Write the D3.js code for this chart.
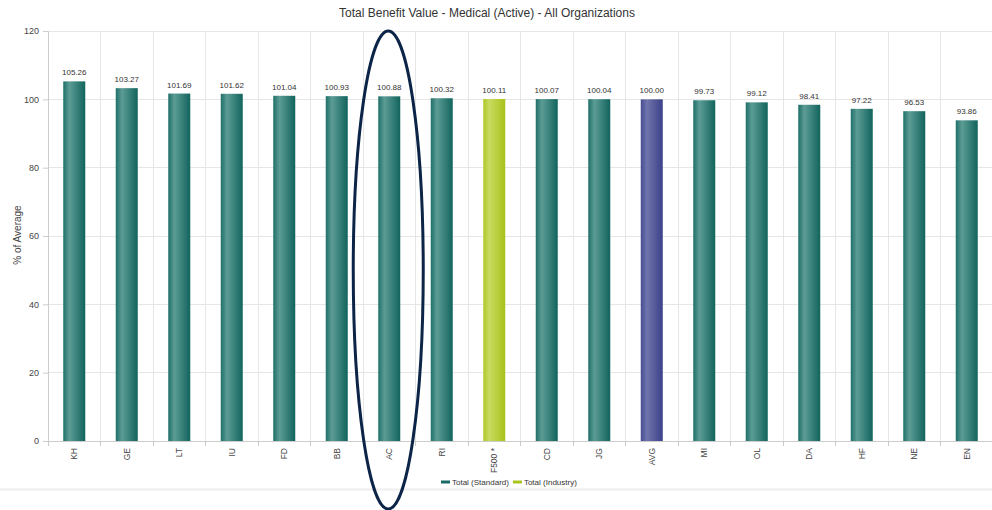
<!DOCTYPE html>
<html>
<head>
<meta charset="utf-8">
<script src="https://cdn.jsdelivr.net/npm/d3@7"></script>
<style>
  html, body { margin: 0; padding: 0; background: #fff; }
  svg { display: block; font-family: "Liberation Sans", Arial, sans-serif; }
</style>
</head>
<body>
<svg id="chart" width="992" height="510"></svg>
<script>
// Organizations ranked by total medical benefit value (% of average)
const categories = ["KH", "GE", "LT", "IU", "FD", "BB", "AC", "RI", "F500 *", "CD", "JG", "AVG", "MI", "OL", "DA", "HF", "NE", "EN"];
const values = [105.26, 103.27, 101.69, 101.62, 101.04, 100.93, 100.88, 100.32, 100.11, 100.07, 100.04, 100.00, 99.73, 99.12, 98.41, 97.22, 96.53, 93.86];
// Series each bar belongs to: standard organizations, the industry benchmark, and the average
const seriesOf = ["std", "std", "std", "std", "std", "std", "std", "std", "ind", "std", "std", "avg", "std", "std", "std", "std", "std", "std"];
const yTicks = [0, 20, 40, 60, 80, 100, 120];
const legendItems = [
  { key: "std", label: "Total (Standard)" },
  { key: "ind", label: "Total (Industry)" }
];
const highlighted = "AC";

const palette = {
  std: { edge: "#1f6f69", light: "#5c9c95", dark: "#11645d", swatch: "#1b6a66" },
  ind: { edge: "#b0c82a", light: "#cadb62", dark: "#a8c21a", swatch: "#a9c41c" },
  avg: { edge: "#474b93", light: "#7074ab", dark: "#3c4089", swatch: "#474b93" }
};

const svg = d3.select("#chart");
const margin = { left: 48, top: 31 };
const W = 992;
const plotW = 993 - margin.left;
const plotBottom = 441;

const x = d3.scaleBand().domain(categories).range([margin.left, margin.left + plotW]).paddingInner(0).paddingOuter(0);
const y = d3.scaleLinear().domain([0, 120]).range([plotBottom, margin.top]);

// Horizontal gradients giving each bar its cylindrical shading
const defs = svg.append("defs");
Object.entries(palette).forEach(([k, c]) => {
  const g = defs.append("linearGradient").attr("id", "grad-" + k)
    .attr("x1", "0%").attr("x2", "100%").attr("y1", "0%").attr("y2", "0%");
  g.append("stop").attr("offset", "0%").attr("stop-color", c.edge);
  g.append("stop").attr("offset", "28%").attr("stop-color", c.light);
  g.append("stop").attr("offset", "100%").attr("stop-color", c.dark);
});

// Title
svg.append("text").attr("x", 487).attr("y", 17).attr("text-anchor", "middle")
  .attr("font-size", 12).attr("fill", "#333")
  .text("Total Benefit Value - Medical (Active) - All Organizations");

// Horizontal grid lines
svg.append("g").selectAll("line").data(yTicks.filter(t => t > 0)).join("line")
  .attr("x1", margin.left).attr("x2", margin.left + plotW)
  .attr("y1", d => y(d)).attr("y2", d => y(d))
  .attr("stroke", "#e6e6e6").attr("stroke-width", 1).attr("shape-rendering", "crispEdges");

// Vertical grid lines at category boundaries
const bounds = categories.slice(1).map(c => x(c));
svg.append("g").selectAll("line").data(bounds).join("line")
  .attr("x1", d => d).attr("x2", d => d)
  .attr("y1", margin.top).attr("y2", plotBottom)
  .attr("stroke", "#e6e6e6").attr("stroke-width", 1).attr("shape-rendering", "crispEdges");

// Y axis
const yAxis = svg.append("g").attr("transform", `translate(${margin.left},0)`)
  .call(d3.axisLeft(y).tickValues(yTicks).tickSize(5).tickPadding(4));
yAxis.select(".domain").attr("stroke", "#ccc");
yAxis.selectAll(".tick line").attr("stroke", "#ccc");
yAxis.selectAll(".tick text").attr("font-size", 9).attr("fill", "#444")
  .attr("font-family", "'Liberation Sans', Arial, sans-serif");

svg.append("text").attr("transform", `translate(21,235) rotate(-90)`)
  .attr("text-anchor", "middle").attr("font-size", 10).attr("fill", "#444")
  .text("% of Average");

// X axis with boundary ticks
const xAxis = svg.append("g").attr("transform", `translate(0,${plotBottom})`)
  .call(d3.axisBottom(x).tickSize(0).tickPadding(6));
xAxis.select(".domain").attr("stroke", "#ccc");
xAxis.selectAll(".tick text")
  .attr("font-size", 8.5).attr("fill", "#444")
  .attr("font-family", "'Liberation Sans', Arial, sans-serif")
  .attr("text-anchor", "end")
  .attr("transform", "rotate(-90)")
  .attr("x", -7).attr("y", 0).attr("dy", "0.35em");
svg.append("g").selectAll("line").data([margin.left, ...bounds]).join("line")
  .attr("x1", d => d).attr("x2", d => d)
  .attr("y1", plotBottom).attr("y2", plotBottom + 5)
  .attr("stroke", "#ccc").attr("shape-rendering", "crispEdges");

// Bars
const barW = 22;
const rows = categories.map((c, i) => ({ c, v: values[i], s: seriesOf[i] }));
svg.append("g").selectAll("rect").data(rows).join("rect")
  .attr("x", d => x(d.c) + x.bandwidth() / 2 - barW / 2)
  .attr("width", barW)
  .attr("y", d => y(d.v))
  .attr("height", d => plotBottom - y(d.v))
  .attr("fill", d => `url(#grad-${d.s})`);

// Value labels
svg.append("g").selectAll("text").data(rows).join("text")
  .attr("x", d => x(d.c) + x.bandwidth() / 2)
  .attr("y", d => y(d.v) - 6)
  .attr("text-anchor", "middle").attr("font-size", 8).attr("fill", "#333")
  .text(d => d.v.toFixed(2));

// Legend
const legend = svg.append("g").attr("transform", "translate(441,482)");
let lx = 0;
legendItems.forEach(item => {
  const g = legend.append("g").attr("transform", `translate(${lx},0)`);
  g.append("rect").attr("x", 0).attr("y", -1.5).attr("width", 9).attr("height", 3)
    .attr("fill", palette[item.key].swatch);
  const t = g.append("text").attr("x", 11).attr("y", 3).attr("font-size", 8).attr("fill", "#333")
    .text(item.label);
  lx += 11 + t.node().getComputedTextLength() + 4;
});

// Bottom separator
svg.append("line").attr("x1", 0).attr("x2", W).attr("y1", 489.5).attr("y2", 489.5)
  .attr("stroke", "#eeeeee").attr("stroke-width", 2);

// Ellipse highlighting one organization
const cx = x(highlighted) + x.bandwidth() / 2 - 1;
svg.append("ellipse").attr("cx", cx).attr("cy", 270).attr("rx", 35).attr("ry", 239)
  .attr("fill", "none").attr("stroke", "#0b2447").attr("stroke-width", 3);
</script>
</body>
</html>
